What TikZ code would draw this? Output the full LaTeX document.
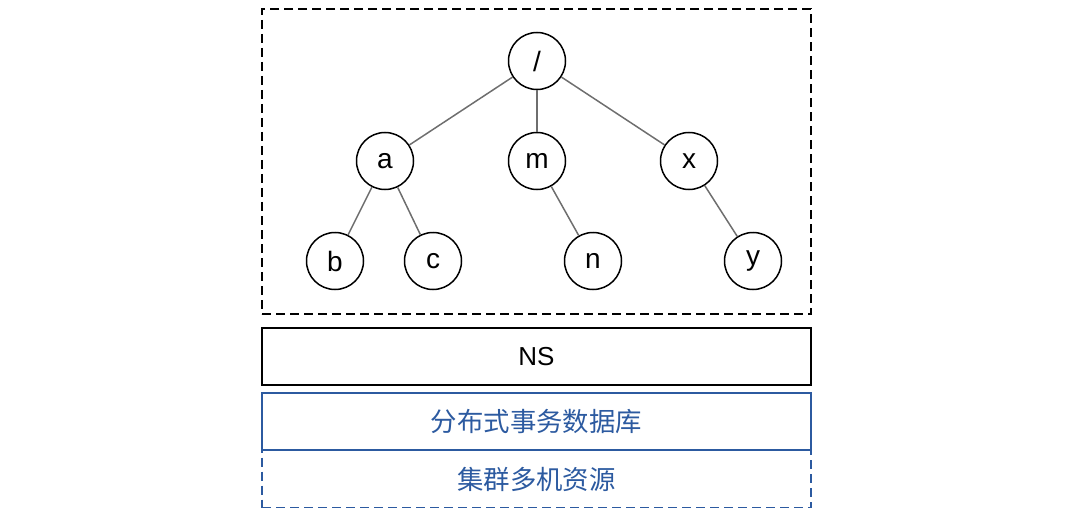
\documentclass[tikz,border=0pt]{standalone}
\usepackage{fontspec}
\setmainfont{Liberation Sans}
\newfontfamily\cjk{Noto Sans CJK SC}
\definecolor{boxblue}{RGB}{44,90,160}
\definecolor{edgegray}{RGB}{110,110,110}
\begin{document}
\begin{tikzpicture}[x=1pt,y=-1pt,
  tnode/.style={circle,draw=black,line width=1.5pt,minimum size=57pt,inner sep=0pt,font=\fontsize{28}{32}\selectfont},
  tedge/.style={draw=edgegray,line width=1.5pt},
  layerbox/.style={draw=black,line width=1.5pt,minimum width=549pt,minimum height=57pt,inner sep=0pt,font=\fontsize{26}{30}\selectfont},
  bluebox/.style={draw=boxblue,line width=1.5pt,minimum width=549pt,minimum height=57pt,inner sep=0pt,text=boxblue,font=\cjk\fontsize{26.4}{30}\selectfont},
  dashpat/.style={dash pattern=on 9pt off 5pt}
]
\useasboundingbox (0,0) rectangle (1080,519);
% outer dashed frame
\node[draw=black,line width=1.5pt,dashpat,minimum width=549pt,minimum height=305pt,inner sep=0pt] (frame) at (536.5,161.5) {};
% tree
\node[tnode] (root) at (537,61) {/};
\node[tnode] (a) at (385,161) {a};
\node[tnode] (m) at (537,161) {m};
\node[tnode] (x) at (689,161) {x};
\node[tnode] (b) at (335,261) {b};
\node[tnode] (c) at (433,261) {c};
\node[tnode] (n) at (593,261) {n};
\node[tnode] (y) at (753,261) {y};
\path[tedge] (root) -- (a);
\path[tedge] (root) -- (m);
\path[tedge] (root) -- (x);
\path[tedge] (a) -- (b);
\path[tedge] (a) -- (c);
\path[tedge] (m) -- (n);
\path[tedge] (x) -- (y);
% layers
\node[layerbox] (ns) at (536.5,356.5) {NS};
\node[bluebox,dashpat] (cluster) at (536.5,479) {集群多机资源};
\node[bluebox] (db) at (536.5,421.5) {分布式事务数据库};
\end{tikzpicture}
\end{document}
